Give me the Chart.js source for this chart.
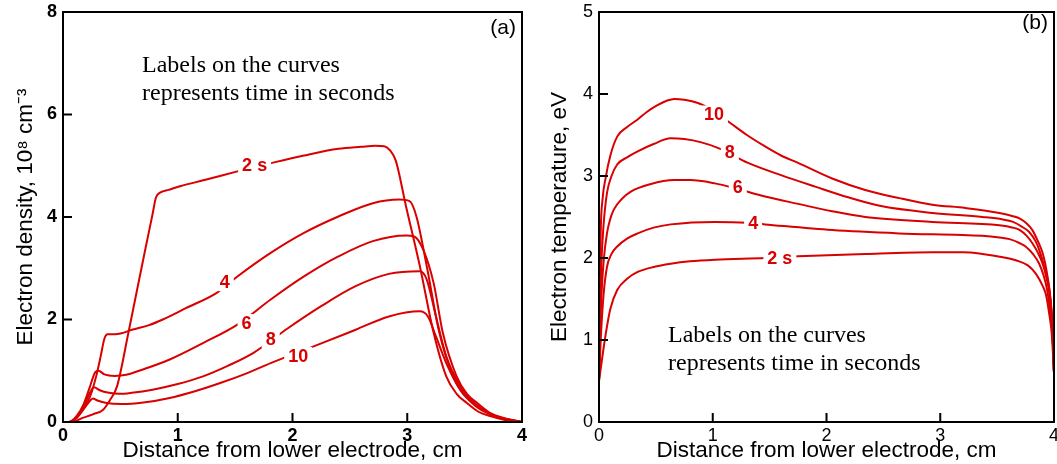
<!DOCTYPE html>
<html>
<head>
<meta charset="utf-8">
<script src="https://cdn.jsdelivr.net/npm/chart.js@4"></script>
<style>
  html, body { margin: 0; padding: 0; background: #fff; }
  #densChart { position: absolute; left: 0; top: 0; }
  #tempChart { position: absolute; left: 530px; top: 0; }
</style>
</head>
<body>
<canvas id="densChart" width="530" height="464"></canvas>
<canvas id="tempChart" width="527" height="464"></canvas>
<script>
// (a) electron density, 10^8 cm^-3, vs distance (cm)
const dens2x  = [0, 0.08, 0.17, 0.26, 0.35, 0.41, 0.47, 0.57, 0.65, 0.72, 0.78, 0.81, 0.85, 0.92, 1.02, 1.25, 1.52, 1.81, 2.1, 2.4, 2.6, 2.72, 2.8, 2.85, 2.9, 2.99, 3.11, 3.23, 3.34, 3.43, 3.52, 3.62, 3.73, 3.85, 4.0];
const dens2y  = [0, 0, 0.08, 0.15, 0.24, 0.43, 0.69, 1.74, 2.63, 3.4, 4.05, 4.38, 4.48, 4.53, 4.6, 4.73, 4.89, 5.05, 5.2, 5.33, 5.37, 5.39, 5.38, 5.3, 5.1, 4.2, 3.04, 1.74, 0.89, 0.55, 0.37, 0.2, 0.11, 0.04, 0];
const dens4x  = [0, 0.05, 0.15, 0.235, 0.29, 0.33, 0.36, 0.39, 0.45, 0.51, 0.6, 0.75, 0.87, 1.07, 1.34, 1.52, 1.81, 2.1, 2.4, 2.7, 2.93, 3.02, 3.08, 3.17, 3.28, 3.4, 3.49, 3.58, 3.7, 3.81, 4.0];
const dens4y  = [0, 0, 0.17, 0.49, 0.9, 1.3, 1.62, 1.71, 1.71, 1.73, 1.8, 1.89, 2.0, 2.22, 2.52, 2.84, 3.3, 3.69, 4.01, 4.27, 4.34, 4.31, 4.01, 3.04, 1.74, 0.89, 0.55, 0.37, 0.18, 0.08, 0];
const dens6x  = [0, 0.05, 0.12, 0.18, 0.235, 0.28, 0.31, 0.36, 0.45, 0.55, 0.69, 0.93, 1.22, 1.52, 1.81, 2.1, 2.4, 2.7, 2.99, 3.06, 3.14, 3.23, 3.31, 3.43, 3.52, 3.61, 3.72, 3.84, 4.0];
const dens6y  = [0, 0, 0.12, 0.35, 0.69, 0.97, 1.0, 0.93, 0.9, 0.92, 1.02, 1.22, 1.54, 1.9, 2.39, 2.84, 3.23, 3.53, 3.64, 3.62, 3.36, 2.71, 1.74, 0.89, 0.55, 0.37, 0.18, 0.08, 0];
const dens8x  = [0, 0.05, 0.12, 0.18, 0.23, 0.27, 0.32, 0.4, 0.49, 0.6, 0.78, 1.0, 1.22, 1.44, 1.66, 1.96, 2.25, 2.55, 2.84, 3.11, 3.17, 3.25, 3.34, 3.46, 3.55, 3.64, 3.75, 3.87, 4.0];
const dens8y  = [0, 0, 0.1, 0.3, 0.55, 0.68, 0.62, 0.57, 0.55, 0.57, 0.63, 0.74, 0.89, 1.1, 1.35, 1.83, 2.26, 2.65, 2.89, 2.94, 2.78, 2.06, 1.28, 0.7, 0.44, 0.27, 0.13, 0.06, 0];
const dens10x = [0, 0.05, 0.12, 0.18, 0.23, 0.26, 0.3, 0.38, 0.51, 0.7, 0.93, 1.15, 1.37, 1.6, 1.81, 2.19, 2.55, 2.84, 3.11, 3.18, 3.25, 3.34, 3.46, 3.55, 3.64, 3.75, 3.87, 4.0];
const dens10y = [0, 0, 0.08, 0.25, 0.4, 0.46, 0.42, 0.37, 0.35, 0.38, 0.47, 0.6, 0.76, 0.95, 1.15, 1.48, 1.8, 2.06, 2.16, 2.06, 1.67, 1.15, 0.63, 0.4, 0.24, 0.13, 0.05, 0];

// (b) electron temperature, eV, vs distance (cm)
const temp2x  = [0, 0.03, 0.06, 0.1, 0.16, 0.25, 0.34, 0.48, 0.63, 0.8, 1.02, 1.46, 1.75, 2.34, 2.93, 3.2, 3.37, 3.55, 3.67, 3.77, 3.84, 3.9, 3.93, 3.96, 3.98, 4.0];
const temp2y  = [0.5, 0.8, 1.08, 1.38, 1.61, 1.75, 1.83, 1.89, 1.93, 1.96, 1.98, 2.0, 2.02, 2.05, 2.07, 2.07, 2.05, 2.01, 1.97, 1.91, 1.81, 1.66, 1.55, 1.3, 1.08, 0.6];
const temp4x  = [0, 0.015, 0.04, 0.07, 0.11, 0.16, 0.25, 0.34, 0.48, 0.63, 1.02, 1.3, 1.46, 2.05, 2.64, 3.37, 3.52, 3.61, 3.7, 3.75, 3.82, 3.87, 3.91, 3.94, 3.97, 3.99, 4.0];
const temp4y  = [0.5, 1.0, 1.55, 1.89, 2.05, 2.14, 2.24, 2.3, 2.37, 2.41, 2.44, 2.43, 2.41, 2.34, 2.3, 2.27, 2.25, 2.23, 2.18, 2.14, 2.04, 1.93, 1.78, 1.61, 1.3, 1.0, 0.6];
const temp6x  = [0, 0.01, 0.02, 0.04, 0.07, 0.1, 0.13, 0.2, 0.28, 0.45, 0.66, 0.8, 1.02, 1.2, 1.46, 1.75, 2.05, 2.34, 2.93, 3.52, 3.64, 3.7, 3.76, 3.81, 3.86, 3.9, 3.93, 3.96, 3.98, 4.0];
const temp6y  = [0.5, 1.1, 1.49, 1.95, 2.3, 2.48, 2.59, 2.72, 2.81, 2.9, 2.95, 2.95, 2.91, 2.85, 2.75, 2.66, 2.57, 2.5, 2.44, 2.4, 2.37, 2.34, 2.27, 2.18, 2.06, 1.93, 1.78, 1.57, 1.3, 0.6];
const temp8x  = [0, 0.01, 0.02, 0.04, 0.07, 0.11, 0.16, 0.25, 0.34, 0.48, 0.63, 0.75, 0.9, 1.05, 1.31, 1.6, 1.9, 2.19, 2.49, 2.93, 3.37, 3.55, 3.64, 3.72, 3.78, 3.84, 3.87, 3.91, 3.94, 3.96, 3.98, 4.0];
const temp8y  = [0.5, 1.3, 1.89, 2.4, 2.79, 3.0, 3.14, 3.23, 3.3, 3.39, 3.46, 3.45, 3.41, 3.34, 3.16, 3.01, 2.87, 2.74, 2.63, 2.55, 2.5, 2.47, 2.44, 2.38, 2.32, 2.2, 2.1, 1.92, 1.75, 1.61, 1.3, 0.6];
const temp10x = [0, 0.008, 0.015, 0.03, 0.06, 0.1, 0.16, 0.25, 0.34, 0.42, 0.51, 0.6, 0.66, 0.75, 0.87, 1.0, 1.16, 1.3, 1.46, 1.6, 1.75, 2.05, 2.34, 2.64, 2.93, 3.22, 3.52, 3.64, 3.7, 3.76, 3.81, 3.86, 3.9, 3.93, 3.96, 3.98, 4.0];
const temp10y = [0.5, 1.5, 2.3, 2.7, 2.99, 3.25, 3.48, 3.6, 3.69, 3.78, 3.86, 3.92, 3.94, 3.93, 3.89, 3.8, 3.64, 3.5, 3.36, 3.25, 3.16, 2.97, 2.83, 2.73, 2.65, 2.61, 2.55, 2.51, 2.48, 2.42, 2.34, 2.2, 2.06, 1.88, 1.61, 1.3, 0.6];

// labels written on the curves: text, x, y
const densLabels = [["2 s", 1.67, 5.02], ["4", 1.41, 2.73], ["6", 1.6, 1.93], ["8", 1.81, 1.61], ["10", 2.05, 1.29]];
const tempLabels = [["10", 1.01, 3.75], ["8", 1.15, 3.29], ["6", 1.22, 2.86], ["4", 1.355, 2.43], ["2 s", 1.59, 2.0]];
const noteLines = ["Labels on the curves", "represents time in seconds"];

const RED = "#d80000";
const SANS = "Arial, 'Liberation Sans', sans-serif";
const SERIF = "'Times New Roman', 'Liberation Serif', serif";

function toPoints(xs, ys) {
  return xs.map((x, i) => ({ x: x, y: ys[i] }));
}

function curve(xs, ys) {
  return {
    data: toPoints(xs, ys),
    borderColor: RED,
    borderWidth: 2,
    pointRadius: 0,
    fill: false,
    cubicInterpolationMode: "monotone",
  };
}

// frame, inward ticks, on-curve labels, note text and panel letter
const decorPlugin = {
  id: "decor",
  afterDatasetsDraw(chart, args, opts) {
    const ctx = chart.ctx;
    const a = chart.chartArea;
    const xs = chart.scales.x, ys = chart.scales.y;
    ctx.save();

    // curve labels with white gap
    ctx.font = "bold 18px " + SANS;
    ctx.textAlign = "center";
    ctx.textBaseline = "middle";
    opts.labels.forEach(([txt, x, y]) => {
      const px = xs.getPixelForValue(x), py = ys.getPixelForValue(y);
      const w = ctx.measureText(txt).width + 8;
      ctx.fillStyle = "#fff";
      ctx.fillRect(px - w / 2, py - 9, w, 18);
      ctx.fillStyle = RED;
      ctx.fillText(txt, px, py + 1);
    });

    // note
    ctx.fillStyle = "#000";
    ctx.font = "24px " + SERIF;
    ctx.textAlign = "left";
    ctx.textBaseline = "alphabetic";
    noteLines.forEach((line, i) => {
      ctx.fillText(line, opts.noteX, opts.noteY + i * 28);
    });

    // panel letter
    ctx.font = "21px " + SANS;
    ctx.textAlign = "right";
    ctx.textBaseline = "top";
    ctx.fillText(opts.letter, a.right - 6, a.top + opts.letterDy);

    // frame + inward ticks
    ctx.strokeStyle = "#000";
    ctx.lineWidth = 2;
    ctx.beginPath();
    xs.ticks.forEach(t => {
      if (t.value <= xs.min || t.value >= xs.max) return;
      const px = xs.getPixelForValue(t.value);
      ctx.moveTo(px, a.bottom);
      ctx.lineTo(px, a.bottom - 9);
    });
    ys.ticks.forEach(t => {
      if (t.value <= ys.min || t.value >= ys.max) return;
      const py = ys.getPixelForValue(t.value);
      ctx.moveTo(a.left, py);
      ctx.lineTo(a.left + 9, py);
    });
    ctx.stroke();
    ctx.strokeRect(a.left, a.top, a.right - a.left, a.bottom - a.top);
    ctx.restore();
  }
};

function makeChart(id, sets, cfg) {
  return new Chart(document.getElementById(id), {
    type: "line",
    data: { datasets: sets },
    plugins: [decorPlugin],
    options: {
      responsive: false,
      animation: false,
      layout: { padding: { left: 0, right: cfg.padRight, top: 12, bottom: 0 } },
      plugins: {
        legend: { display: false },
        tooltip: { enabled: false },
        decor: { labels: cfg.labels, noteX: cfg.noteX, noteY: cfg.noteY, letter: cfg.letter, letterDy: cfg.letterDy },
      },
      scales: {
        x: {
          type: "linear",
          min: 0, max: 4,
          grid: { display: false, drawTicks: false },
          border: { display: false },
          ticks: { stepSize: 1, padding: 3, color: "#000", font: { family: SANS, size: 18, weight: cfg.tickWeight } },
          title: { display: true, text: "Distance from lower electrode, cm", color: "#000",
                   font: { family: SANS, size: 22.5 }, padding: { top: 0, bottom: 0 } },
          afterFit(s) { s.height = 42; s.paddingLeft = 0; s.paddingRight = 0; },
        },
        y: {
          type: "linear",
          min: 0, max: cfg.yMax,
          grid: { display: false, drawTicks: false },
          border: { display: false },
          ticks: { stepSize: cfg.yStep, padding: 6, color: "#000", font: { family: SANS, size: 18, weight: cfg.tickWeight } },
          title: { display: true, text: cfg.yTitle, color: "#000",
                   font: { family: SANS, size: 22.5 }, padding: { top: cfg.yTitlePad, bottom: 0 } },
          afterFit(s) { s.width = cfg.yWidth; s.paddingTop = 0; s.paddingBottom = 0; },
        },
      },
    },
  });
}

makeChart("densChart",
  [curve(dens2x, dens2y), curve(dens4x, dens4y), curve(dens6x, dens6y), curve(dens8x, dens8y), curve(dens10x, dens10y)],
  { padRight: 8, yWidth: 63, yMax: 8, yStep: 2, tickWeight: "bold",
    yTitle: "Electron density, 10\u2078 cm\u207B\u00B3", yTitlePad: 12,
    labels: densLabels, noteX: 142, noteY: 72, letter: "(a)", letterDy: 6 });

makeChart("tempChart",
  [curve(temp2x, temp2y), curve(temp4x, temp4y), curve(temp6x, temp6y), curve(temp8x, temp8y), curve(temp10x, temp10y)],
  { padRight: 3, yWidth: 69, yMax: 5, yStep: 1, tickWeight: "normal",
    yTitle: "Electron temperature, eV", yTitlePad: 16,
    labels: tempLabels, noteX: 138, noteY: 342, letter: "(b)", letterDy: 1 });
</script>
</body>
</html>
